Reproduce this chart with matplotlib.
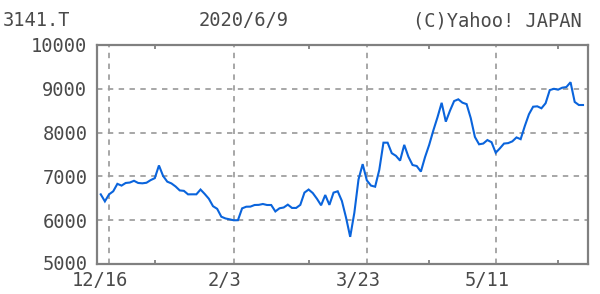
import numpy as np
import matplotlib.pyplot as plt
from matplotlib.transforms import ScaledTranslation

# trading-day index (0 = 12/16) and closing prices
day_idx = list(range(-2, 115))
close = [
    6590, 6430, 6590, 6660, 6830, 6790, 6850, 6860, 6900, 6850,
    6842, 6855, 6915, 6960, 7250, 7010, 6880, 6840, 6770, 6680,
    6670, 6590, 6591, 6591, 6700, 6600, 6490, 6320, 6260, 6080,
    6040, 6020, 5998, 6000, 6270, 6308, 6310, 6347, 6350, 6370,
    6347, 6347, 6200, 6272, 6290, 6355, 6280, 6280, 6350, 6630,
    6700, 6620, 6490, 6340, 6575, 6350, 6630, 6660, 6440, 6060,
    5620, 6170, 6930, 7280, 6910, 6790, 6765, 7150, 7770, 7770,
    7530, 7470, 7360, 7720, 7450, 7260, 7237, 7110, 7440, 7720,
    8050, 8350, 8680, 8250, 8500, 8720, 8760, 8683, 8650, 8330,
    7900, 7733, 7750, 7830, 7780, 7540, 7640, 7750, 7760, 7800,
    7890, 7850, 8150, 8420, 8591, 8600, 8555, 8670, 8970, 9000,
    8980, 9025, 9040, 9150, 8700, 8630, 8630,
]
major_idx = [0, 30, 62, 93]
major_labels = ['12/16', '2/3', '3/23', '5/11']
minor_idx = [11, 48, 77, 108]
y_ticks = [5000, 6000, 7000, 8000, 9000, 10000]

text_col = '#4a4a4a'
frame_col = '#808080'
grid_col = '#a0a0a0'
mono = 'DejaVu Sans Mono'

fig = plt.figure(figsize=(6.0, 2.94), dpi=100)
ax = fig.add_axes([97 / 600, 30 / 294, 491 / 600, 219 / 294])

ax.plot(day_idx, close, color='#0a64dc', lw=1.5, solid_joinstyle='miter')

ax.set_xlim(-2.9, 115.2)
ax.set_ylim(5000, 10000)

ax.set_xticks(major_idx)
ax.set_xticklabels(major_labels)
ax.set_xticks(minor_idx, minor=True)
ax.set_yticks(y_ticks)

ax.grid(True, which='major', color=grid_col, linestyle=(0, (3, 3)), lw=1.3)

ax.tick_params(axis='x', which='major', length=0, pad=5, labelsize=13.5,
               labelcolor=text_col)
ax.tick_params(axis='x', which='minor', direction='in', length=3,
               color=frame_col, width=1.3, top=True, bottom=True)
ax.tick_params(axis='y', which='major', length=0, pad=7, labelsize=13.5,
               labelcolor=text_col)
for lab in ax.get_xticklabels() + ax.get_yticklabels():
    lab.set_family(mono)
# x labels sit slightly left of their gridline
shift = ScaledTranslation(-9 / 100, 0, fig.dpi_scale_trans)
for lab in ax.get_xticklabels():
    lab.set_transform(lab.get_transform() + shift)
ax.get_yticklabels()[0].set_va('center')

for sp in ax.spines.values():
    sp.set_color(frame_col)
    sp.set_linewidth(1.6)

fig.text(3 / 600, 1 - 21 / 294, '3141.T', family=mono, fontsize=13.5,
         color=text_col, ha='left', va='center')
fig.text(244 / 600, 1 - 21 / 294, '2020/6/9', family=mono, fontsize=13.5,
         color=text_col, ha='center', va='center')
fig.text(582 / 600, 1 - 21 / 294, '(C)Yahoo! JAPAN', family=mono,
         fontsize=13.5, color=text_col, ha='right', va='center')

fig.savefig('out.png', dpi=100)
